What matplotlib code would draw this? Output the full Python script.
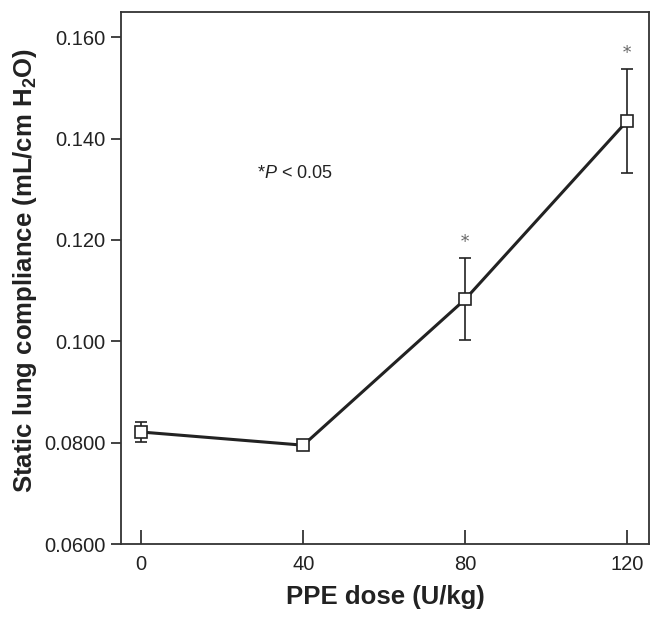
import matplotlib
matplotlib.use("Agg")
import matplotlib.pyplot as plt
import matplotlib.ticker as ticker

# data
dose = [0, 40, 80, 120]
compliance = [0.0821, 0.0795, 0.1083, 0.1435]
sem = [0.0020, 0.0004, 0.0081, 0.0102]
signif = [False, False, True, True]

xticks = [0, 40, 80, 120]
yticks = [0.06, 0.08, 0.10, 0.12, 0.14, 0.16]
ytick_labels = ["0.0600", "0.0800", "0.100", "0.120", "0.140", "0.160"]

plt.rcParams["font.family"] = ["Liberation Sans", "DejaVu Sans"]
plt.rcParams["mathtext.fontset"] = "custom"
plt.rcParams["mathtext.rm"] = "Liberation Sans:bold"
plt.rcParams["mathtext.it"] = "Liberation Sans:italic"
plt.rcParams["mathtext.default"] = "rm"

ink = "#222222"

fig = plt.figure(figsize=(6.62, 6.24), dpi=100)
ax = fig.add_axes([0.1828, 0.1282, 0.7976, 0.8526])

ax.errorbar(dose, compliance, yerr=sem, fmt="none", ecolor=ink, elinewidth=1.2,
            capsize=4.5, capthick=1.2, zorder=2)
ax.plot(dose, compliance, "-", color=ink, lw=2.2, zorder=3)
ax.plot(dose, compliance, "s", ms=8.5, mfc="white", mec=ink, mew=1.2, zorder=4)

for x, y, e, s in zip(dose, compliance, sem, signif):
	if s:
		ax.text(x, y + e + 0.0015, "*", ha="center", va="bottom", fontsize=12,
		        color="#666666", family="DejaVu Serif")

ax.text(28.6, 0.1331, "*$\\it{P}$ < 0.05", ha="left", va="center", fontsize=13, color=ink)

ax.set_xlim(-5, 125.4)
ax.set_ylim(0.06, 0.165)
ax.set_xticks(xticks)
ax.set_yticks(yticks)
ax.yaxis.set_major_formatter(ticker.FixedFormatter(ytick_labels))

ax.tick_params(axis="x", direction="in", length=10, width=1.2, color=ink,
               labelsize=14.5, pad=8, labelcolor=ink)
ax.tick_params(axis="y", direction="out", length=7, width=1.2, color=ink,
               labelsize=14.5, pad=4, labelcolor=ink)
for sp in ax.spines.values():
	sp.set_color("#333333")
	sp.set_linewidth(1.3)

ax.set_xlabel("PPE dose (U/kg)", fontsize=18.5, fontweight="bold", color=ink, labelpad=8)
ax.set_ylabel("Static lung compliance (mL/cm H$_2$O)", fontsize=18.5, fontweight="bold",
              color=ink, labelpad=4)
ax.yaxis.set_label_coords(-0.155, 0.515)

fig.savefig("out.png", dpi=100)
